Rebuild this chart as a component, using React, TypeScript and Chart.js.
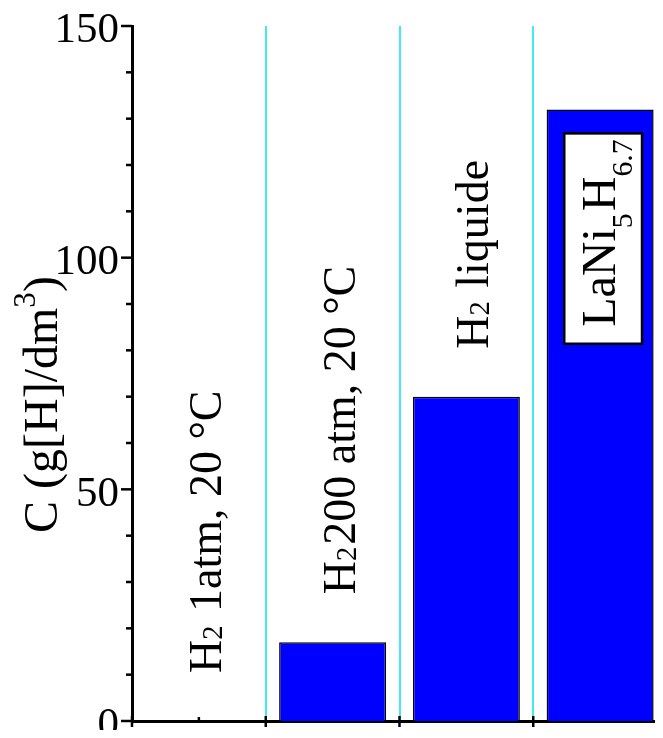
import React, { useEffect, useRef } from "react";
import { Chart, registerables } from "chart.js";

Chart.register(...registerables);

// ---- data ----
const categories = ["H_{2} 1atm, 20 °C", "H_{2}200 atm, 20 °C", "H_{2} liquide", "LaNi_{5}H_{6.7}"];
const values = [0, 17, 70, 132];
const yTickLabels = [0, 50, 100, 150];
const yMin = 0;
const yMax = 150;
const yStep = 10;
const yTitle = "C (g[H]/dm^{3})";
const boxedLabel = [false, false, false, true];

// ---- style ----
const FONT = '"Liberation Serif", "Times New Roman", serif';
const BAR_BLUE = "#0000FF";
const GRID_CYAN = "#3FEAF2";
const LABEL_SIZES = [46, 46, 46, 48];
const SUB_DROP = [0.02, 0.02, 0.02, 0.35];

type Seg = { t: string; k: "n" | "sub" | "sup" };

function parse(s: string): Seg[] {
  const out: Seg[] = [];
  const re = /([_^])\{([^}]*)\}/g;
  let last = 0;
  let m: RegExpExecArray | null;
  while ((m = re.exec(s))) {
    if (m.index > last) out.push({ t: s.slice(last, m.index), k: "n" });
    out.push({ t: m[2], k: m[1] === "_" ? "sub" : "sup" });
    last = re.lastIndex;
  }
  if (last < s.length) out.push({ t: s.slice(last), k: "n" });
  return out;
}
const plain = (s: string) => s.replace(/[_^]\{([^}]*)\}/g, "$1");

function segFont(k: string, size: number, scale: number) {
  return `${k === "n" ? size : size * scale}px ${FONT}`;
}
function measureRich(ctx: CanvasRenderingContext2D, segs: Seg[], size: number, scale: number) {
  let w = 0;
  for (const s of segs) {
    ctx.font = segFont(s.k, size, scale);
    w += ctx.measureText(s.t).width;
  }
  return w;
}
function drawRich(
  ctx: CanvasRenderingContext2D,
  segs: Seg[],
  size: number,
  scale: number,
  drop: number,
  rise: number
) {
  let x = 0;
  for (const s of segs) {
    ctx.font = segFont(s.k, size, scale);
    const dy = s.k === "sub" ? drop * size : s.k === "sup" ? -rise * size : 0;
    ctx.fillText(s.t, x, dy);
    x += ctx.measureText(s.t).width + (s.k === "sub" ? 2 : 0);
  }
}

function line(ctx: CanvasRenderingContext2D, x1: number, y1: number, x2: number, y2: number) {
  ctx.beginPath();
  ctx.moveTo(x1, y1);
  ctx.lineTo(x2, y2);
  ctx.stroke();
}

const annotate = {
  id: "annotate",
  beforeDatasetsDraw(chart: any) {
    const { ctx, chartArea } = chart;
    const x = chart.scales.x;
    const y = chart.scales.y;
    ctx.save();
    ctx.strokeStyle = "#000";
    ctx.lineWidth = 2.5;
    ctx.lineCap = "butt";

    // y tick marks (major longer)
    for (let v = yMin; v <= yMax; v += yStep) {
      const py = y.getPixelForValue(v);
      const len = yTickLabels.includes(v) ? 11 : 6;
      line(ctx, chartArea.left - len, py, chartArea.left, py);
    }

    // x tick marks: minor at category centers (hidden under bars), major at boundaries
    const step = x.getPixelForValue(1) - x.getPixelForValue(0);
    categories.forEach((_, i) => {
      const cx = x.getPixelForValue(i);
      line(ctx, cx, chartArea.bottom - 4, cx, chartArea.bottom);
      const bx = cx - step / 2;
      line(ctx, bx, chartArea.bottom - 5, bx, chartArea.bottom + 6);
    });
    const lastB = x.getPixelForValue(categories.length - 1) + step / 2;
    line(ctx, lastB, chartArea.bottom - 5, lastB, chartArea.bottom + 6);
    ctx.restore();
  },
  afterDraw(chart: any) {
    const { ctx, chartArea } = chart;
    const x = chart.scales.x;
    const y = chart.scales.y;
    ctx.save();
    ctx.fillStyle = "#000";

    // category labels (rotated)
    ctx.textAlign = "left";
    ctx.textBaseline = "alphabetic";
    categories.forEach((c, i) => {
      const segs = parse(c);
      const size = LABEL_SIZES[i];
      const cx = x.getPixelForValue(i);
      const top = y.getPixelForValue(values[i]);
      const w = measureRich(ctx, segs, size, 0.62);
      ctx.save();
      if (boxedLabel[i]) {
        const baseX = cx + 15;
        const endY = top + 32;
        const startY = endY + w;
        ctx.translate(baseX, startY);
        ctx.rotate(-Math.PI / 2);
        ctx.fillStyle = "#fff";
        ctx.fillRect(-17, -1.06 * size, w + 25, 1.62 * size);
        ctx.lineWidth = 2.5;
        ctx.strokeStyle = "#000";
        ctx.strokeRect(-17, -1.06 * size, w + 25, 1.62 * size);
        ctx.fillStyle = "#000";
      } else {
        const baseX = cx + 22;
        const startY = top - 48;
        ctx.translate(baseX, startY);
        ctx.rotate(-Math.PI / 2);
      }
      drawRich(ctx, segs, size, 0.62, SUB_DROP[i], 0.4);
      ctx.restore();
    });

    // y-axis title
    const tSegs = parse(yTitle);
    const tw = measureRich(ctx, tSegs, 48, 0.65);
    const centerY = (chartArea.top + chartArea.bottom) / 2 + 31;
    ctx.save();
    ctx.translate(chartArea.left - 75, centerY + tw / 2);
    ctx.rotate(-Math.PI / 2);
    drawRich(ctx, tSegs, 48, 0.65, 0, 0.45);
    ctx.restore();

    ctx.restore();
  },
};

export default function App() {
  const ref = useRef<HTMLCanvasElement>(null);

  useEffect(() => {
    if (!ref.current) return;
    const chart = new Chart(ref.current, {
      type: "bar",
      data: {
        labels: categories.map(plain),
        datasets: [
          {
            data: values,
            backgroundColor: BAR_BLUE,
            borderColor: "#000",
            borderWidth: 1.5,
            barPercentage: 0.8,
            categoryPercentage: 1.0,
          },
        ],
      },
      options: {
        responsive: false,
        animation: false,
        events: [],
        layout: { padding: { top: 66, right: 13, left: 0, bottom: 0 } },
        plugins: { legend: { display: false }, tooltip: { enabled: false }, title: { display: false } },
        scales: {
          x: {
            type: "category",
            offset: true,
            grid: {
              display: true,
              offset: true,
              drawTicks: false,
              lineWidth: 2,
              color: (c: any) => (c.index === 0 ? "rgba(0,0,0,0)" : GRID_CYAN),
            },
            border: { display: true, color: "#000", width: 3 },
            ticks: { display: false },
            afterFit: (s: any) => {
              s.height = 59;
            },
          },
          y: {
            min: yMin,
            max: yMax,
            grid: { display: false, drawTicks: false },
            border: { display: true, color: "#000", width: 3 },
            ticks: {
              stepSize: yStep,
              autoSkip: false,
              padding: 13,
              labelOffset: 5,
              color: "#000",
              font: { family: FONT, size: 43 },
              callback: (v: any) => (yTickLabels.includes(Number(v)) ? String(v) : ""),
            },
            afterFit: (s: any) => {
              s.width = 132;
            },
          },
        },
      },
      plugins: [annotate],
    });
    return () => chart.destroy();
  }, []);

  return (
    <div style={{ position: "relative", width: 663, height: 738, overflow: "hidden", margin: -8, background: "#fff" }}>
      <canvas ref={ref} width={680} height={820} style={{ position: "absolute", left: 0, top: -40 }} />
    </div>
  );
}
